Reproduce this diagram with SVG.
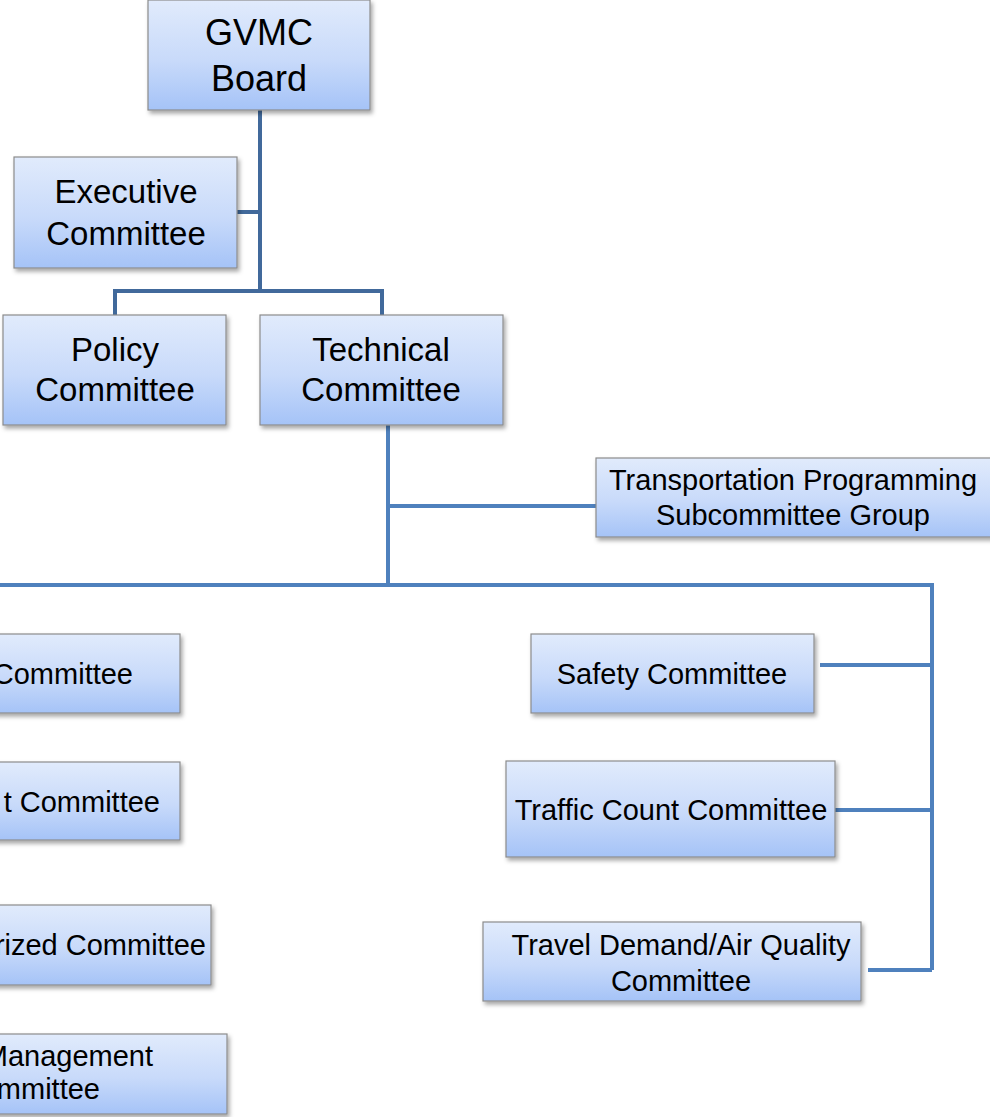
<svg xmlns="http://www.w3.org/2000/svg" width="990" height="1117" viewBox="0 0 990 1117">
<defs>
<linearGradient id="g" x1="0" y1="0" x2="0" y2="1">
<stop offset="0" stop-color="#e1ebfc"/>
<stop offset="0.55" stop-color="#c8dafa"/>
<stop offset="1" stop-color="#a5c3f7"/>
</linearGradient>
<filter id="sh" x="-10%" y="-10%" width="120%" height="130%">
<feDropShadow dx="2" dy="3" stdDeviation="2" flood-color="#000" flood-opacity="0.35"/>
</filter>
</defs>
<style>
.box{fill:url(#g);stroke:#8c8c8c;stroke-width:1.2;filter:url(#sh)}
.t{font-family:"Liberation Sans",Arial,sans-serif;fill:#000;text-anchor:middle}
.big{font-size:36px}
.mid{font-size:33px}
.sm{font-size:29px}
.e{text-anchor:end}
.c1{fill:none;stroke:#41699b;stroke-width:4}
.c2{fill:none;stroke:#4f81bd;stroke-width:4}
</style>
<g id="connectors">
<path class="c1" d="M260 110 V291 M237 212 H260 M115 315 V291 H382 V315"/>
<path class="c2" d="M388 425 V585 M388 506 H596 M0 585 H932 V970 M820 665 H932 M835 810 H932 M868 970 H932"/>
</g>
<g id="gvmc-board">
<rect class="box" x="148" y="0" width="222" height="110"/>
<text class="t big" x="259" y="45">GVMC</text>
<text class="t big" x="259" y="91">Board</text>
</g>
<g id="executive-committee">
<rect class="box" x="14" y="157" width="223" height="111"/>
<text class="t mid" x="126" y="203">Executive</text>
<text class="t mid" x="126" y="245">Committee</text>
</g>
<g id="policy-committee">
<rect class="box" x="3" y="315" width="223" height="110"/>
<text class="t mid" x="115" y="361">Policy</text>
<text class="t mid" x="115" y="401">Committee</text>
</g>
<g id="technical-committee">
<rect class="box" x="260" y="315" width="243" height="110"/>
<text class="t mid" x="381" y="361">Technical</text>
<text class="t mid" x="381" y="401">Committee</text>
</g>
<g id="transportation-programming">
<rect class="box" x="596" y="458" width="400" height="79"/>
<text class="t sm" x="793" y="490">Transportation Programming</text>
<text class="t sm" x="793" y="525">Subcommittee Group</text>
</g>
<g id="left-committee-1">
<rect class="box" x="-200" y="634" width="380" height="79"/>
<text class="t sm e" x="133" y="684">Committee</text>
</g>
<g id="left-committee-2">
<rect class="box" x="-200" y="762" width="380" height="78"/>
<text class="t sm e" x="160" y="812">t Committee</text>
</g>
<g id="left-committee-3">
<rect class="box" x="-200" y="905" width="411" height="80"/>
<text class="t sm e" x="206" y="955">rized Committee</text>
</g>
<g id="left-committee-4">
<rect class="box" x="-200" y="1034" width="427" height="80"/>
<text class="t sm e" x="153" y="1066">Management</text>
<text class="t sm e" x="100" y="1099">mmittee</text>
</g>
<g id="safety-committee">
<rect class="box" x="531" y="634" width="283" height="79"/>
<text class="t sm" x="672" y="684">Safety Committee</text>
</g>
<g id="traffic-count-committee">
<rect class="box" x="506" y="761" width="329" height="96"/>
<text class="t sm" x="671" y="820">Traffic Count Committee</text>
</g>
<g id="travel-demand-committee">
<rect class="box" x="483" y="922" width="378" height="79"/>
<text class="t sm" x="681" y="955">Travel Demand/Air Quality</text>
<text class="t sm" x="681" y="991">Committee</text>
</g>
</svg>
